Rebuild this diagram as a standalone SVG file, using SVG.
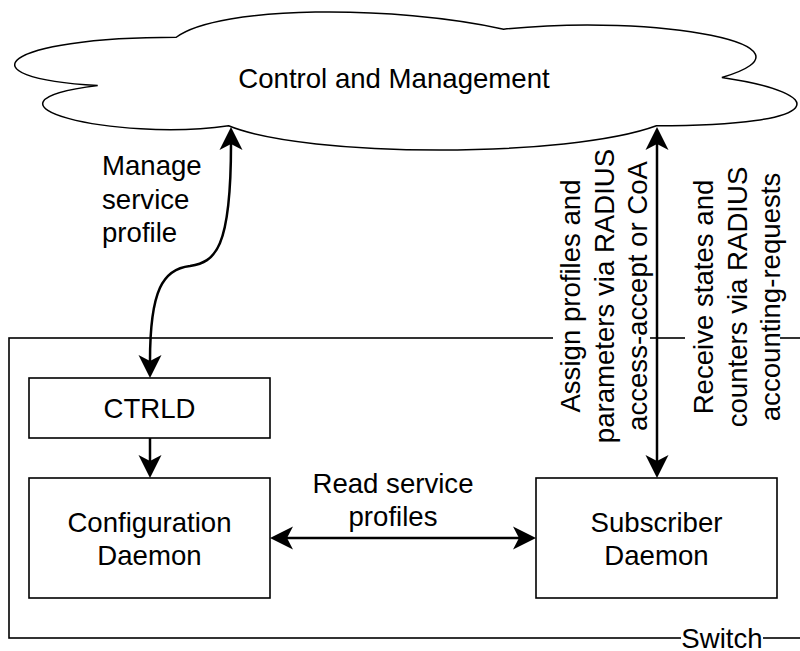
<svg xmlns="http://www.w3.org/2000/svg" width="800" height="651" viewBox="0 0 800 651">
  <style>
    .box { fill: #ffffff; stroke: #000000; stroke-width: 1.6; }
    .cloud { fill: #ffffff; stroke: #000000; stroke-width: 1.5; }
    .edge { fill: none; stroke: #000000; stroke-width: 2.5; marker-end: url(#arrow); marker-start: url(#arrow); }
    .edge1 { fill: none; stroke: #000000; stroke-width: 2.5; marker-end: url(#arrow); }
    text { font-family: "Liberation Sans", Arial, Helvetica, sans-serif; font-size: 27.6px; fill: #000000; }
    .c { text-anchor: middle; }
    .bg { fill: #ffffff; stroke: none; }
  </style>
  <defs>
    <!-- classic filled arrowhead; origin sits at the notch, tip 17 units ahead -->
    <marker id="arrow" markerUnits="userSpaceOnUse" viewBox="-10 -15 30 30" markerWidth="30" markerHeight="30" refX="0" refY="0" orient="auto-start-reverse" overflow="visible">
      <path d="M17,0 L-6,-11.5 L0,0 L-6,11.5 Z" fill="#000000"/>
    </marker>
  </defs>

  <rect width="800" height="651" fill="#ffffff"/>

  <!-- Switch container -->
  <g id="switch">
    <rect class="box" x="9" y="338" width="1500" height="300"/>
    <rect class="bg" x="681" y="626" width="82" height="25"/>
    <text class="c" x="722" y="648">Switch</text>
  </g>

  <!-- Control and Management cloud -->
  <g id="cloud">
    <path class="cloud" d="M176.25,37.25 C1.65,37.25 -42,77.5 97.7,85.55 C-42,103.3 115.1,141.9 228.6,125.8 C307.2,158 569.1,158 656.4,125.8 C831,125.8 831,93.6 721.9,77.5 C831,45.3 656.4,13.1 503.6,29.2 C394.5,5.05 219.9,5.05 176.25,37.25 Z"/>
    <text class="c" x="394" y="88">Control and Management</text>
  </g>

  <g id="ctrld">
    <rect class="box" x="29" y="378" width="241" height="60"/>
    <text class="c" x="149.5" y="418">CTRLD</text>
  </g>

  <g id="config-daemon">
    <rect class="box" x="29" y="478" width="241" height="120"/>
    <text class="c" x="149.5" y="532">Configuration</text>
    <text class="c" x="149.5" y="565">Daemon</text>
  </g>

  <g id="subscriber-daemon">
    <rect class="box" x="536" y="478" width="241" height="120"/>
    <text class="c" x="656.5" y="532">Subscriber</text>
    <text class="c" x="656.5" y="565">Daemon</text>
  </g>

  <!-- Connectors -->
  <g id="connectors">
    <path class="edge" d="M150,361 C150,290 163,269 190,266 C215,262 231,250 231,144"/>
    <path class="edge1" d="M150,438 L150,461"/>
    <path class="edge" d="M287,538 L519,538"/>
    <path class="edge" d="M657,144 L657,461"/>
  </g>

  <!-- Connector labels -->
  <g id="labels">
    <text x="102" y="175">Manage</text>
    <text x="102" y="208.5">service</text>
    <text x="102" y="242">profile</text>

    <text class="c" x="393" y="492.5">Read service</text>
    <text class="c" x="393" y="525.5">profiles</text>

    <rect class="bg" x="553" y="150" width="97" height="295"/>
    <g transform="translate(0,296) rotate(-90)">
      <text class="c" x="0" y="580">Assign profiles and</text>
      <text class="c" x="0" y="613.5">parameters via RADIUS</text>
      <text class="c" x="0" y="647">access-accept or CoA</text>
    </g>

    <rect class="bg" x="685" y="165" width="95" height="265"/>
    <g transform="translate(0,297) rotate(-90)">
      <text class="c" x="0" y="713">Receive states and</text>
      <text class="c" x="0" y="746.5">counters via RADIUS</text>
      <text class="c" x="0" y="780">accounting-requests</text>
    </g>
  </g>
</svg>
